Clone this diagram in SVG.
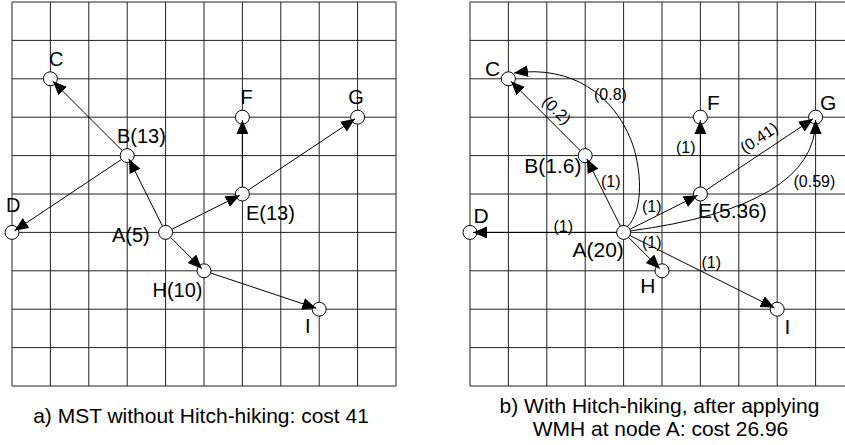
<svg xmlns="http://www.w3.org/2000/svg" width="845" height="445" viewBox="0 0 845 445">
<style>
.grid{fill:none;stroke:#222;stroke-width:1}
.node{fill:#fff;stroke:#000;stroke-width:1}
.edge{fill:none;stroke:#000;stroke-width:1;marker-end:url(#arr)}
.nl{font-family:"Liberation Sans",Arial,sans-serif;font-size:20px;fill:#000}
.nr{font-family:"Liberation Sans",Arial,sans-serif;font-size:21px;fill:#000}
.el{font-family:"Liberation Sans",Arial,sans-serif;font-size:16px;fill:#000}
.cap{font-family:"Liberation Sans",Arial,sans-serif;font-size:21px;fill:#000;text-anchor:middle}
</style>
<defs>
<marker id="arr" markerUnits="userSpaceOnUse" markerWidth="15" markerHeight="13" refX="14" refY="6" orient="auto">
<path d="M0,0 L14,6 L0,12 z" fill="#000"/>
</marker>
</defs>
<rect width="845" height="445" fill="#fff"/>
<g id="grid-a" class="grid">
<path d="M12,2V386M50.4,2V386M88.8,2V386M127.2,2V386M165.6,2V386M204,2V386M242.4,2V386M280.8,2V386M319.2,2V386M357.6,2V386M396,2V386"/>
<path d="M12,2H396M12,40.4H396M12,78.8H396M12,117.2H396M12,155.6H396M12,194H396M12,232.4H396M12,270.8H396M12,309.2H396M12,347.6H396M12,386H396"/>
</g>
<g id="grid-b" class="grid">
<path d="M470,2V386M508.4,2V386M546.8,2V386M585.2,2V386M623.6,2V386M662,2V386M700.4,2V386M738.8,2V386M777.2,2V386M815.6,2V386"/>
<path d="M470,2H845M470,40.4H845M470,78.8H845M470,117.2H845M470,155.6H845M470,194H845M470,232.4H845M470,270.8H845M470,309.2H845M470,347.6H845M470,386H845"/>
</g>
<g id="a-C"><circle class="node" cx="50.4" cy="78.8" r="7"/><text class="nl" x="49" y="66">C</text></g>
<g id="a-B"><circle class="node" cx="127.2" cy="155.6" r="7"/><text class="nl" x="117" y="142.5">B(13)</text></g>
<g id="a-D"><circle class="node" cx="12" cy="232.4" r="7"/><text class="nl" x="6" y="211.7">D</text></g>
<g id="a-A"><circle class="node" cx="165.6" cy="232.4" r="7"/><text class="nl" x="112" y="241.7">A(5)</text></g>
<g id="a-E"><circle class="node" cx="242.4" cy="194" r="7"/><text class="nl" x="246" y="220">E(13)</text></g>
<g id="a-F"><circle class="node" cx="242.4" cy="117.2" r="7"/><text class="nl" x="240.5" y="104.3">F</text></g>
<g id="a-G"><circle class="node" cx="357.6" cy="117.2" r="7"/><text class="nl" x="348.3" y="104">G</text></g>
<g id="a-H"><circle class="node" cx="204" cy="270.8" r="7"/><text class="nl" x="152.5" y="296.7">H(10)</text></g>
<g id="a-I"><circle class="node" cx="319.2" cy="309.2" r="7"/><text class="nl" x="305" y="333.3">I</text></g>
<g id="b-C"><circle class="node" cx="508.4" cy="78.8" r="7"/><text class="nr" x="485" y="76">C</text></g>
<g id="b-B"><circle class="node" cx="585.2" cy="155.6" r="7"/><text class="nr" x="524.3" y="173.3">B(1.6)</text></g>
<g id="b-D"><circle class="node" cx="470" cy="232.4" r="7"/><text class="nr" x="473.5" y="222.7">D</text></g>
<g id="b-A"><circle class="node" cx="623.6" cy="232.4" r="7"/><text class="nr" x="572.5" y="257.3">A(20)</text></g>
<g id="b-E"><circle class="node" cx="700.4" cy="194" r="7"/><text class="nr" x="698" y="218.3">E(5.36)</text></g>
<g id="b-F"><circle class="node" cx="700.4" cy="117.2" r="7"/><text class="nr" x="707" y="110">F</text></g>
<g id="b-G"><circle class="node" cx="815.6" cy="117.2" r="7"/><text class="nr" x="820" y="110">G</text></g>
<g id="b-H"><circle class="node" cx="662" cy="270.8" r="7"/><text class="nr" x="640.3" y="293.3">H</text></g>
<g id="b-I"><circle class="node" cx="777.2" cy="309.2" r="7"/><text class="nr" x="784.5" y="334">I</text></g>
<g id="connectors">
<line class="edge" x1="122.25" y1="150.65" x2="52.9" y2="81.3"/>
<line class="edge" x1="121.38" y1="159.48" x2="14.5" y2="230.74"/>
<line class="edge" x1="162.47" y1="226.14" x2="128.8" y2="158.8"/>
<line class="edge" x1="171.86" y1="229.27" x2="239.72" y2="195.34"/>
<line class="edge" x1="242.4" y1="187" x2="242.4" y2="120.2"/>
<line class="edge" x1="248.22" y1="190.12" x2="355.1" y2="118.86"/>
<line class="edge" x1="170.55" y1="237.35" x2="201.88" y2="268.68"/>
<line class="edge" x1="210.64" y1="273.01" x2="316.35" y2="308.25"/>
<line class="edge" x1="580.25" y1="150.65" x2="510.9" y2="81.3"/>
<path class="edge" d="M627,227 C645,210 641,165 631,140 C613,95 572,65 514,73"/>
<line class="edge" x1="620.47" y1="226.14" x2="586.8" y2="158.8"/>
<line class="edge" x1="616.6" y1="232.4" x2="473" y2="232.4"/>
<line class="edge" x1="629.86" y1="229.27" x2="697.72" y2="195.34"/>
<line class="edge" x1="700.4" y1="187" x2="700.4" y2="120.2"/>
<line class="edge" x1="706.22" y1="190.12" x2="813.1" y2="118.86"/>
<path class="edge" d="M630,231 Q816,206 815.6,120"/>
<line class="edge" x1="628.55" y1="237.35" x2="659.88" y2="268.68"/>
<line class="edge" x1="629.86" y1="235.53" x2="774.52" y2="307.86"/>
</g>
<g id="edge-labels">
<text class="el" x="594" y="100">(0.8)</text>
<text class="el" text-anchor="middle" transform="translate(557,110) rotate(45)" y="5.7">(0.2)</text>
<text class="el" text-anchor="middle" transform="translate(759,137.5) rotate(-33.7)" y="5.7">(0.41)</text>
<text class="el" x="793.5" y="187">(0.59)</text>
<text class="el" x="676" y="153.3">(1)</text>
<text class="el" x="601" y="186.7">(1)</text>
<text class="el" x="642" y="212.3">(1)</text>
<text class="el" x="553.5" y="231.7">(1)</text>
<text class="el" x="642" y="248.3">(1)</text>
<text class="el" x="701.5" y="268.3">(1)</text>
</g>
<g id="captions">
<text class="cap" x="201" y="422.5">a) MST without Hitch-hiking: cost 41</text>
<text class="cap" x="659.5" y="413.3">b) With Hitch-hiking, after applying</text>
<text class="cap" x="660.5" y="436">WMH at node A: cost 26.96</text>
</g>
</svg>
